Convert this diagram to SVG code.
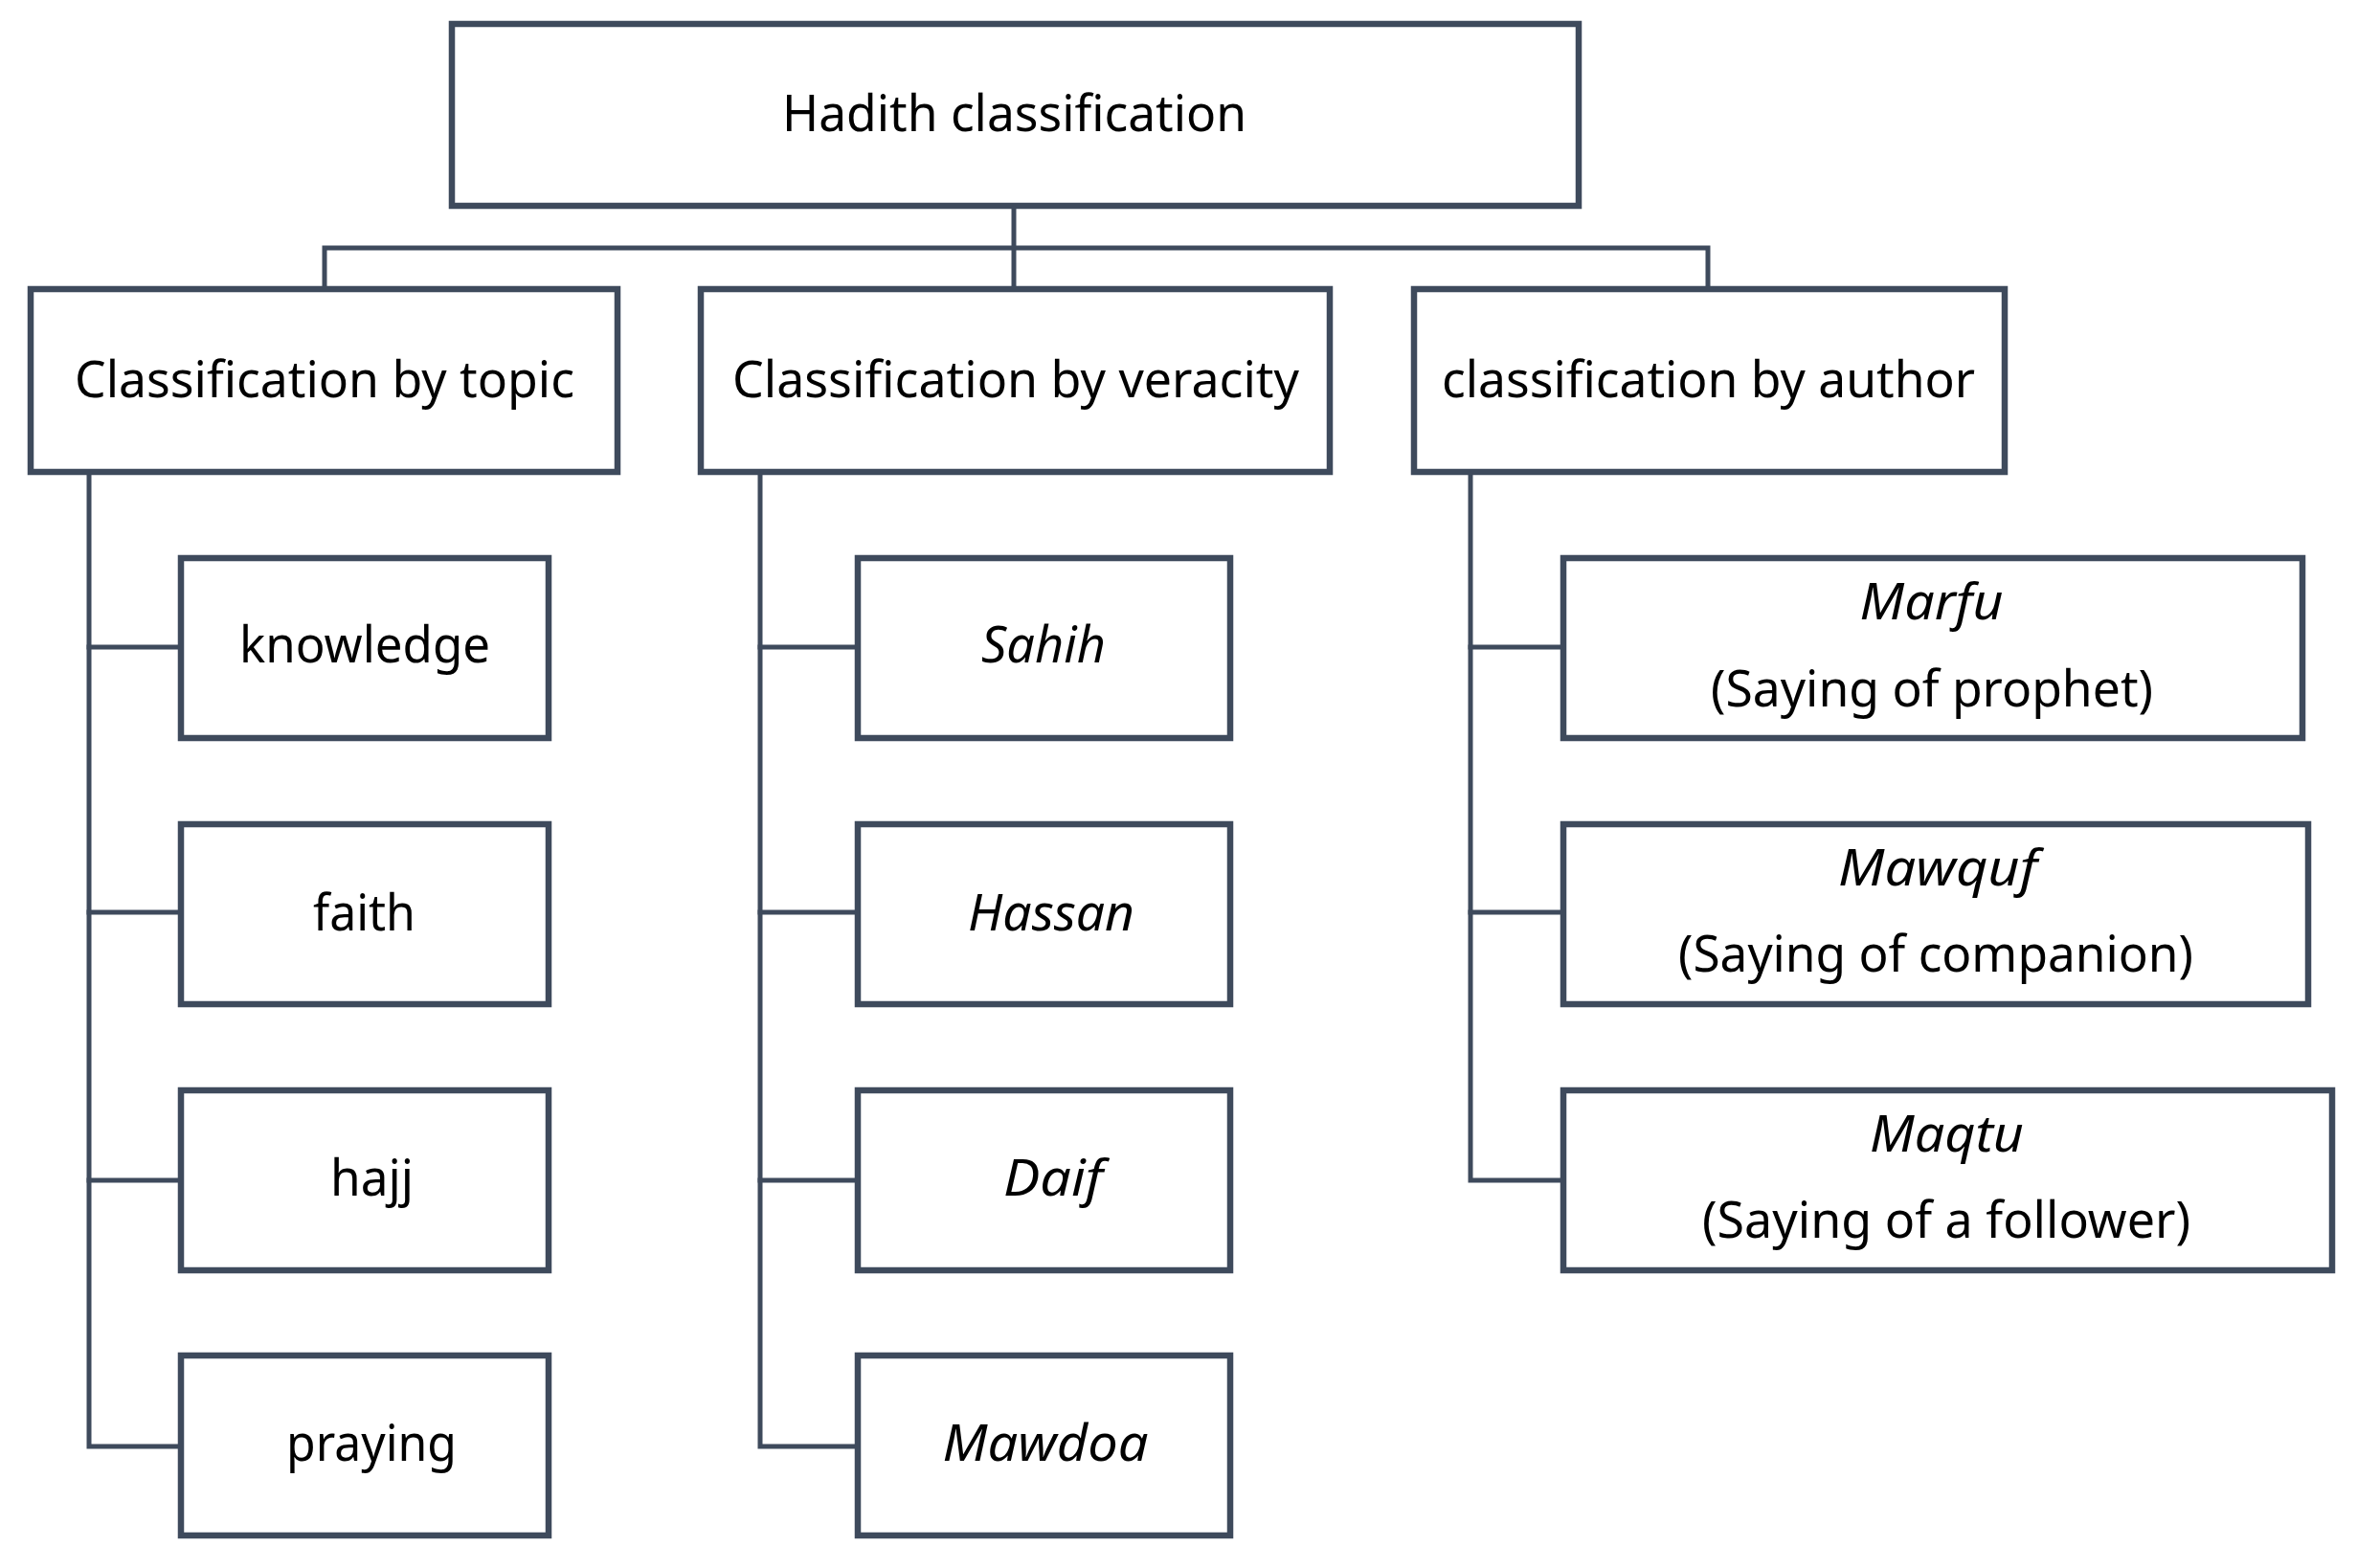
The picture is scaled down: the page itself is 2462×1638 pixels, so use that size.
<svg xmlns="http://www.w3.org/2000/svg" width="2462" height="1638" viewBox="0 0 2462 1638">
<style>
.box{fill:#ffffff;stroke:#3E4A5C;stroke-width:6.5}
.con{fill:none;stroke:#3E4A5C;stroke-width:5;stroke-linejoin:miter;stroke-linecap:square}
text{font-family:"Noto Sans","Open Sans","Liberation Sans",sans-serif;font-size:52px;fill:#000000;text-anchor:middle}
.it{font-style:italic}
</style>
<rect width="2462" height="1638" fill="#ffffff"/>
<g id="connectors">
<path class="con" d="M1059 218 V299"/>
<path class="con" d="M339 299 V259 H1784 V299"/>
<path class="con" d="M93 496 V1511 H186"/>
<path class="con" d="M93 676 H186 M93 953 H186 M93 1233 H186"/>
<path class="con" d="M794 496 V1511 H893"/>
<path class="con" d="M794 676 H893 M794 953 H893 M794 1233 H893"/>
<path class="con" d="M1536 496 V1233 H1630"/>
<path class="con" d="M1536 676 H1630 M1536 953 H1630"/>
</g>
<g id="n-root"><rect class="box" x="472" y="25" width="1177" height="190"/><text x="1059.5" y="137" textLength="485" lengthAdjust="spacingAndGlyphs">Hadith classification</text></g>
<g id="n-topic"><rect class="box" x="32" y="302" width="613" height="191"/><text x="339" y="415" textLength="522" lengthAdjust="spacingAndGlyphs">Classification by topic</text></g>
<g id="n-veracity"><rect class="box" x="732" y="302" width="657" height="191"/><text x="1061" y="415" textLength="592" lengthAdjust="spacingAndGlyphs">Classification by veracity</text></g>
<g id="n-author"><rect class="box" x="1477" y="302" width="617" height="191"/><text x="1784.5" y="415" textLength="557" lengthAdjust="spacingAndGlyphs">classification by author</text></g>
<g id="n-knowledge"><rect class="box" x="189" y="583" width="384" height="188"/><text x="381" y="692" textLength="262" lengthAdjust="spacingAndGlyphs">knowledge</text></g>
<g id="n-faith"><rect class="box" x="189" y="861" width="384" height="188"/><text x="380.5" y="972" textLength="107" lengthAdjust="spacingAndGlyphs">faith</text></g>
<g id="n-hajj"><rect class="box" x="189" y="1139" width="384" height="188"/><text x="388.5" y="1249" textLength="87" lengthAdjust="spacingAndGlyphs">hajj</text></g>
<g id="n-praying"><rect class="box" x="189" y="1416" width="384" height="188"/><text x="388" y="1526" textLength="178" lengthAdjust="spacingAndGlyphs">praying</text></g>
<g id="n-sahih"><rect class="box" x="896" y="583" width="389" height="188"/><text class="it" x="1090" y="692" textLength="130" lengthAdjust="spacingAndGlyphs">Sahih</text></g>
<g id="n-hassan"><rect class="box" x="896" y="861" width="389" height="188"/><text class="it" x="1098" y="972" textLength="174" lengthAdjust="spacingAndGlyphs">Hassan</text></g>
<g id="n-daif"><rect class="box" x="896" y="1139" width="389" height="188"/><text class="it" x="1100" y="1249" textLength="104" lengthAdjust="spacingAndGlyphs">Daif</text></g>
<g id="n-mawdoa"><rect class="box" x="896" y="1416" width="389" height="188"/><text class="it" x="1092" y="1526" textLength="215" lengthAdjust="spacingAndGlyphs">Mawdoa</text></g>
<g id="n-marfu"><rect class="box" x="1633" y="583" width="772" height="188"/><text class="it" x="2017.5" y="647" textLength="150" lengthAdjust="spacingAndGlyphs">Marfu</text><text x="2018" y="738" textLength="462" lengthAdjust="spacingAndGlyphs">(Saying of prophet)</text></g>
<g id="n-mawquf"><rect class="box" x="1633" y="861" width="778" height="188"/><text class="it" x="2024" y="925" textLength="208" lengthAdjust="spacingAndGlyphs">Mawquf</text><text x="2022" y="1015" textLength="538" lengthAdjust="spacingAndGlyphs">(Saying of companion)</text></g>
<g id="n-maqtu"><rect class="box" x="1633" y="1139" width="803" height="188"/><text class="it" x="2033.5" y="1203" textLength="161" lengthAdjust="spacingAndGlyphs">Maqtu</text><text x="2033" y="1293" textLength="510" lengthAdjust="spacingAndGlyphs">(Saying of a follower)</text></g>
</svg>
